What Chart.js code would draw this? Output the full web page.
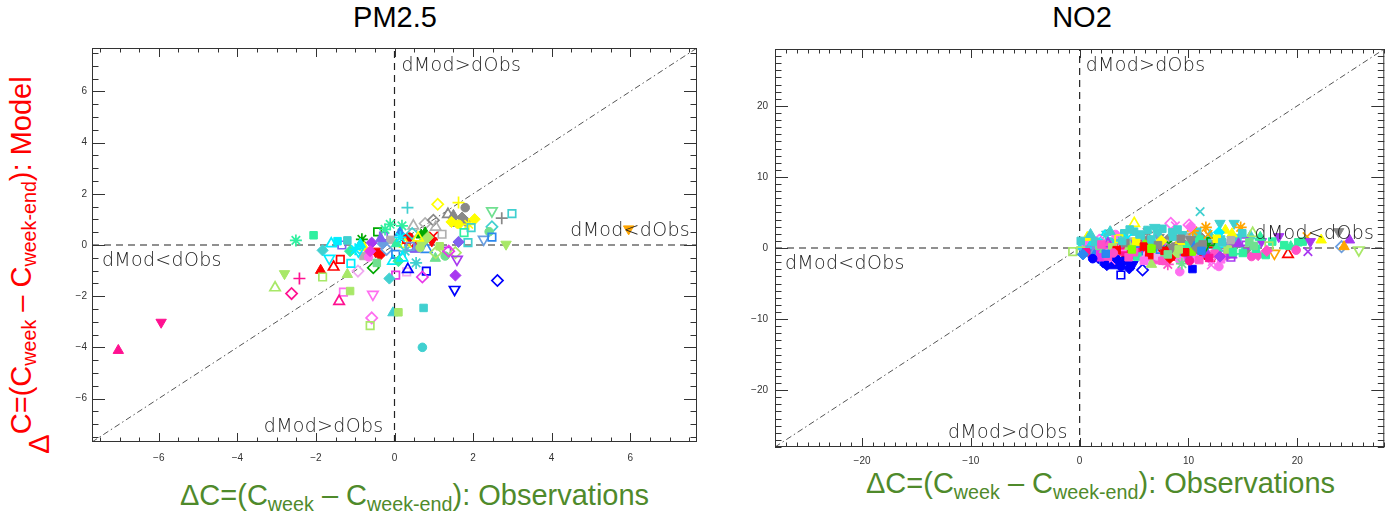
<!DOCTYPE html>
<html lang="en">
<head>
<meta charset="UTF-8">
<title>Week minus week-end differences: model vs observations</title>
<script src="https://cdn.jsdelivr.net/npm/chart.js"></script>
<style>
  body {
    margin: 0;
    background: #fff;
    width: 1392px;
    height: 515px;
    position: relative;
    overflow: hidden;
    font-family: 'Liberation Sans', Arial, sans-serif;
  }
  canvas { position: absolute; top: 0; }
  #pmCanvas { left: 0; }
  #no2Canvas { left: 740px; }
  .title {
    position: absolute;
    top: 2px;
    font-size: 29px;
    line-height: 30px;
    color: #000;
    transform: translateX(-50%);
    white-space: nowrap;
  }
  .xtitle, .ytitle {
    position: absolute;
    font-size: 29px;
    line-height: 29px;
    white-space: nowrap;
  }
  .xtitle { color: #4f8a2b; }
  .ytitle {
    color: #ff0000;
    transform: translate(-50%, -50%) rotate(-90deg);
  }
  .ytitle .delta { position: relative; top: 0.62em; }
  sub { font-size: 0.68em; vertical-align: -0.3em; line-height: 0; }
</style>
</head>
<body>
  <div class="title" style="left:395px">PM2.5</div>
  <div class="title" style="left:1082px">NO2</div>
  <div class="ytitle" style="left:21px; top:265px"><span class="delta">&Delta;</span>C=(C<sub>week</sub> &ndash; C<sub>week-end</sub>): Model</div>
  <div class="xtitle" style="left:180px; top:481px">&Delta;C=(C<sub>week</sub> &ndash; C<sub>week-end</sub>): Observations</div>
  <div class="xtitle" style="left:866px; top:469px">&Delta;C=(C<sub>week</sub> &ndash; C<sub>week-end</sub>): Observations</div>

  <canvas id="pmCanvas" width="740" height="515"></canvas>
  <canvas id="no2Canvas" width="652" height="515"></canvas>

<script>
// ---- PM2.5: week minus week-end difference, observed (x) vs modelled (y)
const pmObs = [
  0.33, 1.10, 1.63, 1.80, 1.36, 1.50, 1.72, 1.55, 1.80, 2.04,
  1.89, 1.63, 1.45, 2.48, 2.73, 2.99, 1.77, 1.95, 2.48, 2.41,
  2.27, 2.48, 1.87, 2.84, 1.21, 0.99, 0.95, 0.57, 0.37, 0.27,
  0.68, 0.82, 1.63, 1.33, 1.55, 1.59, 1.04, 1.29, 0.81, 0.71,
  1.55, 1.53, 2.62, 0.31, 0.03, 0.34, -0.13, -0.04, -0.55, -0.58,
  -0.62, -0.04, 0.10, 0.74, 0.71, -1.30, -1.13, -1.41, -2.62, -3.04,
  -2.80, -2.42, -1.88, -1.83, -1.20, -1.55, -1.38, -0.93, -2.51, -2.06,
  -1.61, -1.83, -1.66, -1.34, -1.20, -1.11, -1.13, -0.83, -0.43, -0.54,
  -0.49, -0.37, -0.79, -0.77, -0.66, -0.20, 0.03, -0.11, 0.19, 0.48,
  0.78, 0.99, -0.58, -0.28, 0.14, 0.31, -1.00, -0.92, -0.62, -0.87,
  -0.24, 0.10, 0.27, 0.70, 0.78, 0.53, 1.38, -0.10, 0.05, 0.45,
  0.60, 0.85, 0.40, -0.30, 0.20, -0.35, 0.15, 1.05, 0.65, 1.15,
  1.05, -0.45, 0.55, -1.45, 5.96, -7.03, -5.94
];
const pmMod = [
  1.46, 1.59, 1.66, 1.46, 1.20, 1.16, 1.07, 0.84, 0.94, 1.01,
  0.81, 0.81, 0.90, 1.33, 1.05, 1.23, 0.48, 0.68, 0.71, 0.52,
  0.22, 0.31, 0.09, 0.03, 0.42, 0.35, 0.16, -0.04, 0.31, 0.03,
  0.39, -0.17, 0.12, -0.24, -0.30, -0.56, -0.52, -0.43, -1.02, -1.25,
  -1.19, -1.74, -1.39, -1.05, -1.18, -0.95, -1.31, -0.63, -1.93, -2.85,
  -3.15, -2.65, -2.63, -2.46, -4.00, -1.84, -1.80, -2.20, -1.90, -1.67,
  -1.12, -1.31, -0.99, -1.25, -1.15, -0.86, -0.56, -1.02, 0.18, 0.38,
  0.05, -0.21, -0.52, 0.00, 0.18, -0.72, -0.24, 0.22, 0.51, -0.89,
  -0.24, -0.39, -0.43, -0.10, -0.47, -0.17, -0.37, 0.81, 0.75, 0.75,
  0.84, 0.97, 0.09, 0.35, 0.48, 0.22, -0.17, -0.24, -0.24, 0.03,
  0.61, -0.63, -0.24, 0.09, 0.48, -0.17, -0.24, 0.20, 0.05, 0.45,
  0.28, 0.30, -0.05, 0.05, -0.50, 0.25, 0.30, 0.70, -0.10, -0.05,
  -0.30, -0.70, -0.70, 0.15, 0.63, -4.12, -3.02
];
// marker of each site: shape (upper case = filled) : colour name
const pmMark = [
  '+:turq', 'd:yellow', '+:yellow', 'O:gray', 't:gray', 'T:gray', 'D:gray', 'T:gray', 'D:gray', 'D:yellow',
  '*:yellow', 'O:yellow', 'D:yellow', 'v:sea', '+:gray', 's:turq', 's:aqua', 's:turq', 'd:turq', 'O:sea',
  'v:corn', 's:dblue', 's:turq', 'V:ygreen', 's:lgray', 'x:red', 'V:red', 'D:red', 'O:red', 't:yellow',
  'T:green', 't:dblue', 'D:mpurp', 's:purp', 'd:ygreen', 'v:purp', 'T:sea', 'O:sea', 's:blue', 'd:mag',
  'D:purp', 'v:blue', 'd:blue', 's:plum', 's:mag', 't:blue', 'D:turq', 't:cyan', 'v:violet', 'd:violet',
  's:ygreen', 'T:turq', 'S:ygreen', 'S:turq', 'O:turq', 's:violet', 'S:ygreen', 't:pink', 'd:pink', 't:ygreen',
  'V:ygreen', '+:pink', 'T:red', 's:ygreen', 'T:ygreen', 't:red', 's:red', 'd:plum', '*:aqua', 'S:aqua',
  't:cyan', 'D:turq', 'v:cyan', 's:mpurp', 'S:turq', 's:cyan', 'D:aqua', '*:green', 's:green', 'd:green',
  'V:red', 'D:red', 'S:lgray', 'T:yellow', 'O:violet', 'd:corn', 's:dblue', '*:aqua', '*:aqua', 't:lgray',
  'd:lgray', 'd:gray', 'D:purp', 's:mpurp', 'T:dblue', 's:red', '*:cyan', 'v:cyan', 'D:mag', 'T:cyan',
  '*:aqua', 'D:aqua', '*:turq', 'D:ygreen', 'T:green', 'T:mpurp', 'd:mag', 'S:lgray', 'T:aqua', 'd:turq',
  't:yellow', 'D:ygreen', 's:corn', 'D:corn', 't:cyan', 'T:mpurp', '*:cyan', 't:lgray', 'O:ygreen', 'S:ygreen',
  'd:ygreen', 'S:sea', '*:turq', 'S:cyan', 'V:orange', 'T:pink', 'V:pink'
];

// ---- NO2
const no2Obs = [
  11.07, 8.38, 10.06, 8.80, 5.02, 12.90, 14.20, 11.60, 14.80, 13.40,
  15.70, 18.30, 20.90, 22.20, 23.80, 24.80, 24.07, 24.30, 25.66, 20.98,
  19.15, 19.40, 20.50, 20.10, 17.70, 17.90, 16.40, 17.10, 15.90, 15.10,
  15.40, 14.95, 21.20, 3.79, 5.78, 4.56, 3.64, 3.64, 1.87, 9.20,
  10.37, 12.10, -0.64, 0.37, 2.50, 3.00, 4.90, 2.20, 3.79, 4.70,
  5.20, 6.10, 7.16, 8.07, 8.70, 10.06, 10.90, 12.10, 12.30, 6.90,
  9.10, 4.30, 11.50, 6.50, 8.07, 9.60, 10.40, 12.35, 5.90, 7.30,
  8.90, 11.20, 13.80, 14.30, 6.20, 9.90, 7.80, 4.80, 5.00, 6.24,
  7.16, 4.10, 8.50, 9.40, 10.80, 12.00, 13.00, 3.20, 1.04, 1.60,
  2.80, 7.60, 11.70, 14.50, 5.60, 2.40, 0.80, 2.26, 0.50, 1.30,
  3.50, 6.80, 9.80, 13.20, 0.20, 4.40, 12.80, 2.57, 3.18, 6.85,
  7.46, 5.78, 1.50, 2.20, 4.00, 5.50, 6.30, 7.90, 8.40, 9.50,
  10.60, 11.00, 12.20, 13.50, 15.80, 2.90, 3.90, 5.30, 7.10, 9.20,
  6.20, 8.10, 13.60, 11.60, 10.00, 14.00, 15.30, 16.70, 4.90, 9.00,
  13.90, 2.60, 0.40, 1.80, 3.30, 11.40, 10.60, 7.40, 5.40, 2.90,
  1.10, 3.30, 4.20, 2.30, 13.20, 7.00, 0.90, 12.05, 6.00, 6.39,
  8.20, 10.30, 3.00, 4.60, 8.80, 12.60, 14.60, 16.20, 9.80, 11.00,
  5.30, 7.80, 9.40, 1.80, 0.10, 2.00, 13.60, 15.60, 6.60, 11.50,
  5.20, 7.50, 9.20, 3.60, 0.70, 12.60, 10.40, 14.00, 11.80, 1.40,
  2.00, 3.40, 4.20, 5.00, 5.90, 6.60, 7.80, 8.60, 9.70, 10.20,
  11.30, 12.40, 13.10, 14.10, 0.60, 1.90, 3.10, 4.50, 6.40, 7.60,
  8.30, 10.10, 11.90, 13.00, 2.80, 4.60, 6.90, 9.00, 10.20, 0.30,
  1.20, 2.60, 5.90, 3.80, 12.80, 16.60, 17.40, 18.80, 19.90, 7.20,
  8.50, 9.30, 10.80, 5.50, 3.90, 1.00, 0.10, 13.90, 15.00, 2.40,
  4.80, 6.60, 8.10, 9.10, 11.20, 12.90, 14.60, 16.00, 17.20
];
const no2Mod = [
  5.12, 3.47, 3.24, 3.10, 3.47, 3.47, 3.47, 2.90, 2.90, 2.50,
  1.70, 1.60, 1.60, 1.13, 2.30, 1.13, 0.19, 0.19, -0.28, -0.52,
  -0.89, 0.19, 0.90, 0.80, 0.90, -0.75, -0.99, -0.99, 2.07, 0.90,
  -0.28, 2.07, 0.90, -3.80, -3.10, -2.86, -2.25, -2.07, -1.60, -3.33,
  -2.96, -2.39, -0.52, -0.19, -2.40, -2.50, -2.30, -1.90, 0.66, -0.05,
  -1.00, -0.60, -0.75, -0.75, -1.20, -0.28, -0.60, -0.40, -1.10, 0.20,
  0.30, -0.90, -0.90, 0.66, 1.13, 0.66, 0.90, 0.66, 1.13, 1.50,
  0.30, 1.40, 0.10, 0.50, 2.20, 1.70, 0.60, 0.90, 2.30, 2.54,
  2.07, 2.07, 2.20, 1.90, 2.30, 1.80, 1.20, 1.10, 1.36, 0.60,
  0.90, 2.70, 1.00, 1.40, 1.60, 1.80, 0.50, 1.60, 0.90, 0.20,
  0.30, -0.30, -1.30, -0.40, 0.30, 1.40, 2.20, 0.42, -0.99, -1.70,
  0.42, -0.99, -0.50, -0.30, -0.50, -0.30, -1.50, -1.60, -0.20, -1.00,
  -1.40, -1.70, -1.90, -1.10, -1.20, -1.70, 0.20, 0.50, -1.10, -1.70,
  -2.00, -2.30, 0.42, -0.75, -0.90, -1.00, 0.40, 0.90, 0.50, -0.50,
  -1.30, 0.60, 0.70, 1.10, 1.90, -0.05, 0.40, -0.20, -0.40, -0.60,
  -0.80, -1.40, -1.80, -2.20, 0.30, 0.90, -0.20, 0.90, 0.40, 0.42,
  0.60, -0.50, 0.10, 0.20, -0.80, -0.10, -0.30, -0.10, 0.30, 1.20,
  -1.20, -1.00, -2.20, 0.30, -0.40, -1.00, -0.20, 0.80, -2.30, 0.20,
  0.90, 1.00, 0.90, 1.30, 1.50, 1.30, 2.40, 2.00, 1.90, 0.90,
  0.50, -0.30, 0.70, -0.60, 0.20, 1.20, -0.40, 1.60, -0.60, 1.20,
  0.50, -0.80, 0.80, -0.60, -0.60, -1.30, -0.70, -1.30, -1.00, -1.80,
  -1.40, -1.80, -1.40, -1.60, 2.30, 2.60, 2.90, 2.60, 3.00, -0.90,
  -1.50, -1.20, -1.80, -2.60, -2.60, 1.50, 0.30, 0.40, -0.30, 0.40,
  0.10, 1.30, 0.00, 1.90, 1.00, 1.90, 1.00, 1.10, -0.70, -0.80,
  -0.20, -0.10, -0.90, -0.20, -0.40, -1.20, 0.60, 0.30, -0.40
];
const no2Mark = [
  'x:turq', 'd:violet', 'd:violet', 'x:violet', 't:yellow', 'V:turq', 'V:turq', '*:orange', '*:orange', 'T:yellow',
  'T:turq', 'V:purp', 'x:orange', 'T:yellow', 'V:gray', 'T:purp', 'd:corn', 'T:orange', 'v:ygreen', 'x:purp',
  't:red', 'T:aqua', 'S:aqua', 'S:aqua', 'S:aqua', 'v:orange', 'D:hot', 'S:aqua', 't:ygreen', 's:purp',
  'V:gray', 'S:turq', 'V:purp', 's:blue', 'd:blue', 'D:blue', 'D:blue', 't:blue', 'O:blue', 'O:violet',
  'S:blue', 'x:violet', 's:ygreen', 'D:corn', 'D:blue', 'T:blue', 'V:blue', 'S:dblue', 'S:red', 'D:red',
  'S:red', 'V:red', 'S:red', 'D:red', 'S:red', 'D:red', 'T:red', 's:red', 'v:red', 'S:red',
  'S:red', 'T:red', 'D:red', 'V:gray', 'D:gray', 'V:gray', 'T:gray', 'V:gray', 'S:gray', 'V:gray',
  'V:gray', 'D:gray', 'V:gray', 'T:gray', '*:gray', 'V:lgray', 'S:lgray', 'S:lgray', 'S:turq', 'S:turq',
  'S:turq', 'S:turq', 'S:turq', 'V:turq', 'S:turq', 'T:turq', 'S:turq', 'T:turq', 't:turq', 'x:turq',
  'S:turq', 'S:turq', 'O:turq', 'S:turq', 'S:turq', '*:turq', '*:turq', 't:cyan', '*:cyan', 'S:cyan',
  's:cyan', 's:cyan', 'O:cyan', 's:cyan', 'T:cyan', 'x:cyan', 'D:cyan', 'S:hot', 'S:hot', 'S:hot',
  'D:hot', 'O:plum', 'S:mag', 'x:hot', 'S:pink', 'D:pink', 'S:violet', 'O:pink', 'S:pink', 'D:mag',
  'O:violet', 'S:hot', 'x:violet', 'O:hot', 'O:hot', 'x:violet', 's:violet', 'x:pink', 'O:plum', 'O:violet',
  '+:plum', '*:hot', '*:purp', 'O:purp', 'D:purp', 'T:purp', 's:purp', 'V:purp', 'T:mpurp', 'S:mpurp',
  's:purp', 't:purp', 'V:violet', 'd:violet', 'O:violet', 'D:dblue', 'S:dblue', 's:dblue', 's:dblue', 'D:dblue',
  'S:dblue', 'D:blue', 'S:blue', 'O:blue', 'd:corn', 't:corn', 'v:corn', 's:green', 'D:lime', 'S:lime',
  'x:green', 'S:lime', 'S:ygreen', 'T:ygreen', 'S:ygreen', 'T:aqua', 's:aqua', 'S:aqua', 'O:aqua', 'S:aqua',
  'S:aqua', 'S:sea', '*:sea', 'S:sea', 's:ygreen', 'T:sea', 'S:ygreen', 'S:sea', 'T:ygreen', 'v:green',
  'S:yellow', 'D:yellow', 'T:yellow', 's:yellow', 'T:yellow', 'S:yellow', '*:orange', 'T:yellow', 'x:orange', 'S:turq',
  'S:hot', 'S:red', 'S:gray', 'S:hot', 'S:red', 'S:turq', 'S:red', 'S:turq', 'S:red', 'V:gray',
  'S:gray', 'S:hot', 'S:turq', 'S:aqua', 'S:pink', 'S:mag', 'O:hot', 'S:hot', 'S:red', 'S:hot',
  'D:red', 'O:pink', 'S:pink', 'S:violet', 'T:turq', 'S:turq', 'V:turq', 'S:turq', 'D:violet', 'D:dblue',
  'O:blue', 'S:hot', 'S:violet', 'O:blue', 'O:violet', 'T:aqua', 's:ygreen', 'S:aqua', 'O:hot', 'S:gray',
  'V:gray', 'S:gray', 'D:gray', 'S:turq', 'S:turq', 'T:turq', 'S:turq', 'S:lgray', 'S:aqua', 'S:dblue',
  'S:lime', 'S:lime', 'S:sea', 'S:ygreen', 'S:dblue', 'D:purp', 'T:purp', 'S:sea', 'D:hot'
];

// tick labels
const pmTicks = [-6, -4, -2, 0, 2, 4, 6];
const no2Ticks = [-20, -10, 0, 10, 20];

const palette = {
  red: '#ff0000', pink: '#ff1090', hot: '#ff50c8', mag: '#e838e8', violet: '#ff6ef0',
  plum: '#f0a8f0', purp: '#a838f0', mpurp: '#8060f0', blue: '#0000ff', dblue: '#2a88f0',
  corn: '#6a9ee0', cyan: '#00eeff', turq: '#40d0d0', aqua: '#30f0a0', sea: '#70e090',
  green: '#00a800', lime: '#80ff00', ygreen: '#a8e868', yellow: '#ffff00', orange: '#ffa500',
  gray: '#888888', lgray: '#b0b0b0'
};

const shapes = {
  t: { style: 'triangle', rot: 0, r: 6 },
  v: { style: 'triangle', rot: 180, r: 6 },
  s: { style: 'rect', rot: 0, r: 5.3 },
  d: { style: 'rectRot', rot: 0, r: 5.6 },
  o: { style: 'circle', rot: 0, r: 4.3 },
  '+': { style: 'cross', rot: 0, r: 6 },
  x: { style: 'crossRot', rot: 0, r: 6 },
  '*': { style: 'star', rot: 0, r: 6 }
};

function markerStyle(code) {
  const [s, c] = code.split(':');
  const col = palette[c];
  const shape = shapes[s.toLowerCase()];
  const filled = s !== s.toLowerCase();
  return {
    style: shape.style,
    rot: shape.rot,
    r: shape.r,
    bg: filled ? col : 'rgba(0,0,0,0)',
    border: col,
    bw: filled ? 1 : 1.7
  };
}

function buildDataset(xs, ys, marks) {
  const st = marks.map(markerStyle);
  return {
    data: xs.map((x, i) => ({ x: x, y: ys[i] })),
    pointStyle: st.map(s => s.style),
    pointRotation: st.map(s => s.rot),
    pointRadius: st.map(s => s.r),
    pointBackgroundColor: st.map(s => s.bg),
    pointBorderColor: st.map(s => s.border),
    pointBorderWidth: st.map(s => s.bw)
  };
}

function fmt(v) {
  return v < 0 ? '\u2212' + Math.abs(v) : String(v);
}

// zero lines, 1:1 line, frame with inward ticks, quadrant labels
const decor = {
  id: 'decor',
  beforeDatasetsDraw(chart, args, o) {
    const { ctx, chartArea: a, scales: { x, y } } = chart;
    const x0 = x.getPixelForValue(0), y0 = y.getPixelForValue(0);
    ctx.save();
    ctx.beginPath();
    ctx.rect(a.left, a.top, a.right - a.left, a.bottom - a.top);
    ctx.clip();

    ctx.strokeStyle = '#555';
    ctx.lineWidth = 1;
    ctx.setLineDash([6, 3, 1.5, 3]);
    const lo = Math.max(x.min, y.min), hi = Math.min(x.max, y.max);
    ctx.beginPath();
    ctx.moveTo(x.getPixelForValue(lo), y.getPixelForValue(lo));
    ctx.lineTo(x.getPixelForValue(hi), y.getPixelForValue(hi));
    ctx.stroke();

    ctx.strokeStyle = '#222';
    ctx.lineWidth = 1.2;
    ctx.setLineDash([7, 5]);
    ctx.beginPath();
    ctx.moveTo(x0, a.bottom);
    ctx.lineTo(x0, a.top);
    ctx.moveTo(a.left, y0);
    ctx.lineTo(a.right, y0);
    ctx.stroke();
    ctx.restore();
  },
  afterDatasetsDraw(chart, args, o) {
    const { ctx, chartArea: a, scales: { x, y } } = chart;
    const x0 = x.getPixelForValue(0), y0 = y.getPixelForValue(0);
    ctx.save();

    // quadrant labels
    ctx.font = '300 19px "DejaVu Sans"';
    ctx.letterSpacing = '0.3px';
    ctx.fillStyle = '#222';
    ctx.textBaseline = 'alphabetic';
    const L = o.labels;
    ctx.textAlign = 'left';
    ctx.fillText('dMod>dObs', x0 + L.top[0], a.top + L.top[1]);
    ctx.fillText('dMod<dObs', a.left + L.left[0], y0 + L.left[1]);
    ctx.textAlign = 'right';
    ctx.fillText('dMod<dObs', a.right - L.right[0], y0 + L.right[1]);
    ctx.fillText('dMod>dObs', x0 - L.bottom[0], a.bottom - L.bottom[1]);

    // frame
    ctx.letterSpacing = '0px';
    ctx.strokeStyle = '#333';
    ctx.lineWidth = 1;
    ctx.strokeRect(a.left + 0.5, a.top + 0.5, a.right - a.left - 1, a.bottom - a.top - 1);

    // inward ticks on all four sides
    ctx.beginPath();
    const isMajor = v => Math.abs(v / o.major - Math.round(v / o.major)) < 1e-6;
    for (let k = Math.ceil(x.min / o.minor); k * o.minor <= x.max; k++) {
      const v = k * o.minor;
      const px = Math.round(x.getPixelForValue(v)) + 0.5;
      const len = isMajor(v) ? 9 : 4.5;
      ctx.moveTo(px, a.bottom); ctx.lineTo(px, a.bottom - len);
      ctx.moveTo(px, a.top); ctx.lineTo(px, a.top + len);
    }
    for (let k = Math.ceil(y.min / o.minor); k * o.minor <= y.max; k++) {
      const v = k * o.minor;
      const py = Math.round(y.getPixelForValue(v)) + 0.5;
      const len = isMajor(v) ? 13 : 6.5;
      ctx.moveTo(a.left, py); ctx.lineTo(a.left + len, py);
      ctx.moveTo(a.right, py); ctx.lineTo(a.right - len, py);
    }
    ctx.stroke();
    ctx.restore();
  }
};

function axis(min, max, ticks, pad, size, horizontal) {
  return {
    type: 'linear',
    min: min,
    max: max,
    afterBuildTicks: s => { s.ticks = ticks.map(v => ({ value: v })); },
    afterFit: s => { if (horizontal) s.height = size; else s.width = size; },
    grid: { display: false, drawTicks: false },
    border: { display: false },
    ticks: {
      padding: pad,
      color: '#333',
      font: { family: 'Liberation Sans', size: 10 },
      callback: v => fmt(v)
    }
  };
}

function makeChart(id, xs, ys, marks, lim, ticks, opt) {
  return new Chart(document.getElementById(id), {
    type: 'scatter',
    data: { datasets: [buildDataset(xs, ys, marks)] },
    options: {
      responsive: false,
      animation: false,
      events: [],
      layout: { padding: opt.padding },
      scales: {
        x: axis(-lim, lim, ticks, opt.xPad, 30, true),
        y: axis(-lim, lim, ticks, opt.yPad, opt.yWidth, false)
      },
      plugins: {
        legend: { display: false },
        tooltip: { enabled: false },
        decor: { minor: opt.minor, major: opt.major, labels: opt.labels }
      }
    },
    plugins: [decor]
  });
}

makeChart('pmCanvas', pmObs, pmMod, pmMark, 7.7, pmTicks, {
  padding: { left: 40, right: 43, top: 48, bottom: 43 },
  yWidth: 52, xPad: 10, yPad: 5,
  minor: 0.5, major: 2,
  labels: { top: [7, 23], left: [10, 21], right: [7, -9], bottom: [11, 10] }
});

makeChart('no2Canvas', no2Obs, no2Mod, no2Mark, 28, no2Ticks, {
  padding: { left: 0, right: 4, top: 49, bottom: 38 },
  yWidth: 35, xPad: 8, yPad: 7,
  minor: 1, major: 10,
  labels: { top: [6, 22], left: [10, 21], right: [10, -9], bottom: [12, 9] }
});
</script>
</body>
</html>
